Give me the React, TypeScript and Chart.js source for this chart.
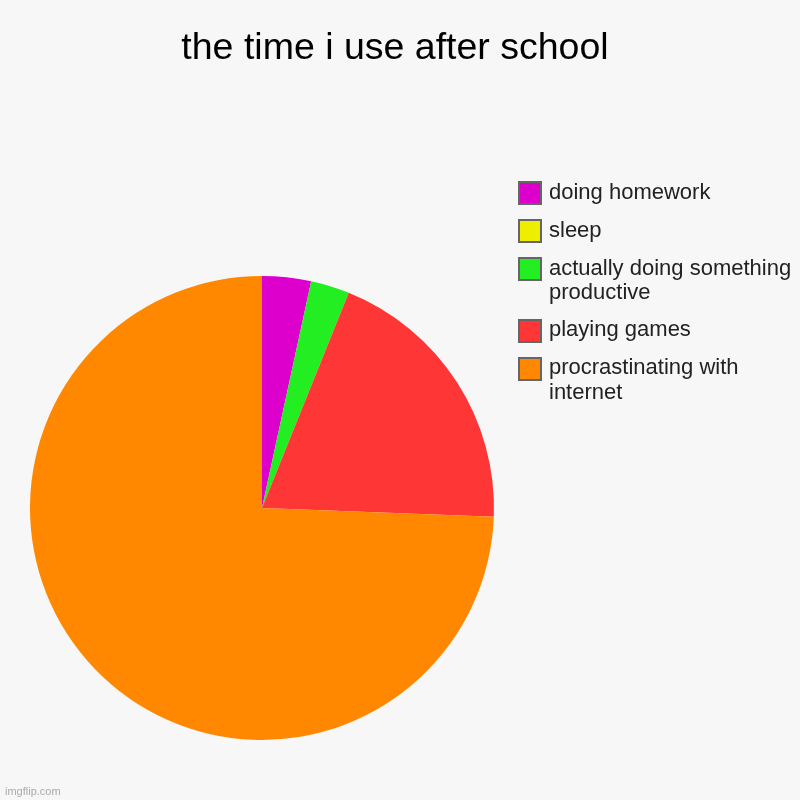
import { useEffect, useRef } from 'react';
import { Chart, registerables } from 'chart.js';

Chart.register(...registerables);

const title = 'the time i use after school';
const categories = ['doing homework', 'sleep', 'actually doing something productive', 'playing games', 'procrastinating with internet'];
const legendLines = [['doing homework'], ['sleep'], ['actually doing something', 'productive'], ['playing games'], ['procrastinating with', 'internet']];
const values = [3.4, 0, 2.7, 19.5, 74.4];
const colors = ['#dd00cc', '#eeee00', '#22ee22', '#ff3636', '#ff8800'];

const App: React.FC = () => {
  const canvasRef = useRef<HTMLCanvasElement | null>(null);

  useEffect(() => {
    const canvas = canvasRef.current;
    if (!canvas) return;

    const chart = new Chart(canvas, {
      type: 'pie',
      data: {
        labels: categories,
        datasets: [
          {
            data: values,
            backgroundColor: colors,
            borderWidth: 0,
          },
        ],
      },
      options: {
        responsive: false,
        animation: false,
        layout: {
          padding: { left: 30, top: 276, right: 306, bottom: 60 },
        },
        plugins: {
          legend: { display: false },
          tooltip: { enabled: false },
          title: { display: false },
        },
      },
    });

    return () => {
      chart.destroy();
    };
  }, []);

  return (
    <div
      style={{
        position: 'fixed',
        left: 0,
        top: 0,
        width: 800,
        height: 800,
        background: '#f7f7f7',
        fontFamily: '"Liberation Sans", Arial, sans-serif',
        overflow: 'hidden',
      }}
    >
      <canvas ref={canvasRef} width={800} height={800} style={{ position: 'absolute', left: 0, top: 0 }} />
      <div
        style={{
          position: 'absolute',
          left: 0,
          width: 790,
          top: 25,
          textAlign: 'center',
          fontSize: 37.5,
          lineHeight: '42px',
          color: '#000',
        }}
      >
        {title}
      </div>
      <div style={{ position: 'absolute', left: 518, top: 179.5, width: 282 }}>
        {legendLines.map((lines, i) => (
          <div key={i} style={{ display: 'flex', alignItems: 'flex-start', marginBottom: 12.5 }}>
            <div
              style={{
                width: 24,
                height: 24,
                boxSizing: 'border-box',
                border: '2px solid #666',
                background: colors[i],
                marginTop: 1.5,
                flex: 'none',
              }}
            />
            <div style={{ marginLeft: 7, fontSize: 22, lineHeight: '24.5px', color: '#222', whiteSpace: 'nowrap' }}>
              {lines.map((l, j) => (
                <div key={j}>{l}</div>
              ))}
            </div>
          </div>
        ))}
      </div>
      <div style={{ position: 'absolute', left: 5, top: 785, fontSize: 11, color: '#aaa' }}>imgflip.com</div>
    </div>
  );
};

export default App;
